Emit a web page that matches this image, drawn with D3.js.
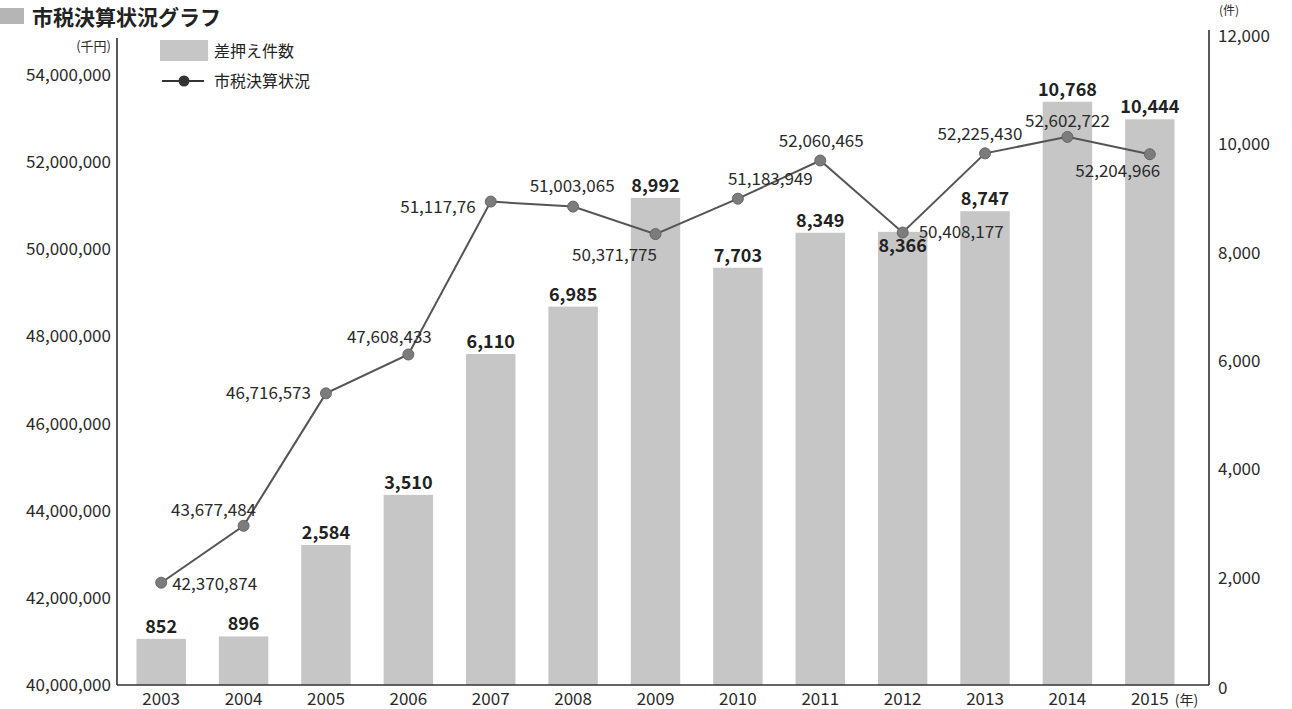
<!DOCTYPE html>
<html>
<head>
<meta charset="utf-8" />
<title>市税決算状況グラフ</title>
<script src="https://d3js.org/d3.v7.min.js"></script>
<style>
body { margin: 0; background: #fff; }
svg text { font-family: "Noto Sans CJK JP", "Noto Sans", sans-serif; fill: #222; }
.bar { fill: #c6c6c6; }
.barlabel { font-weight: bold; font-size: 18px; text-anchor: middle; }
.linelabel { font-size: 17px; fill: #2a2a2a; }
.tick { font-size: 17px; fill: #2a2a2a; }
</style>
</head>
<body>
<div id="viz"></div>
<script>
// data
var years = ["2003", "2004", "2005", "2006", "2007", "2008", "2009", "2010", "2011", "2012", "2013", "2014", "2015"];
var seizures = [852, 896, 2584, 3510, 6110, 6985, 8992, 7703, 8349, 8366, 8747, 10768, 10444];
var taxRevenue = [42370874, 43677484, 46716573, 47608433, 51117760, 51003065, 50371775, 51183949, 52060465, 50408177, 52225430, 52602722, 52204966];
var taxLabels = ["42,370,874", "43,677,484", "46,716,573", "47,608,433", "51,117,76", "51,003,065", "50,371,775", "51,183,949", "52,060,465", "50,408,177", "52,225,430", "52,602,722", "52,204,966"];
var leftTicks = [40000000, 42000000, 44000000, 46000000, 48000000, 50000000, 52000000, 54000000];
var rightTicks = [0, 2000, 4000, 6000, 8000, 10000, 12000];

// where each line label sits next to its point
var lineLabelPos = [
  {dx: 11, dy: 7, a: "start"},
  {dx: -30, dy: -10, a: "middle"},
  {dx: -15, dy: 6, a: "end"},
  {dx: -19, dy: -11, a: "middle"},
  {dx: -15, dy: 11, a: "end"},
  {dx: -1, dy: -15, a: "middle"},
  {dx: -41, dy: 27, a: "middle"},
  {dx: -10, dy: -14, a: "start"},
  {dx: 1, dy: -14, a: "middle"},
  {dx: 16, dy: 5, a: "start"},
  {dx: -5, dy: -13, a: "middle"},
  {dx: 0, dy: -10, a: "middle"},
  {dx: -32, dy: 23, a: "middle"}
];
// bar label tweak (2012 sits inside the bar)
var barLabelDy = [0, 0, 0, 0, 0, 0, 0, 0, 0, 26, 0, 0, 0];

var W = 1292, H = 709;
var left = 117, right = 1209, bottom = 685;

var svg = d3.select("#viz").append("svg")
    .attr("width", W)
    .attr("height", H);

var x = d3.scaleBand().domain(years).range([120, 1191]).paddingInner(0.4).paddingOuter(0.2);
var yL = d3.scaleLinear().domain([40000000, 54000000]).range([686, 76]);
var yR = d3.scaleLinear().domain([0, 12000]).range([bottom, 35]);

// title
svg.append("rect").attr("x", 0).attr("y", 8).attr("width", 24).attr("height", 16).attr("fill", "#b5b5b5");
svg.append("text").attr("x", 32).attr("y", 25)
    .style("font-size", "21px").style("font-weight", "bold")
    .text("市税決算状況グラフ");

// bars
svg.selectAll(".bar")
  .data(seizures)
  .enter().append("rect")
    .attr("class", "bar")
    .attr("x", function(d, i) { return x(years[i]); })
    .attr("y", function(d) { return yR(d); })
    .attr("width", x.bandwidth())
    .attr("height", function(d) { return bottom - yR(d); });

// axes lines
svg.append("line").attr("x1", left).attr("x2", left).attr("y1", 38).attr("y2", bottom)
    .attr("stroke", "#222").attr("stroke-width", 1.5);
svg.append("line").attr("x1", right).attr("x2", right).attr("y1", 30).attr("y2", bottom)
    .attr("stroke", "#222").attr("stroke-width", 1.5);
svg.append("line").attr("x1", left).attr("x2", right).attr("y1", bottom).attr("y2", bottom)
    .attr("stroke", "#333").attr("stroke-width", 1.5);

// left axis labels
svg.selectAll(".ltick")
  .data(leftTicks)
  .enter().append("text")
    .attr("class", "tick")
    .attr("x", 111)
    .attr("y", function(d) { return yL(d) - 1; })
    .attr("dy", "0.35em")
    .attr("text-anchor", "end")
    .text(d3.format(","));
svg.append("text").attr("class", "tick").attr("x", 111).attr("y", 51)
    .attr("text-anchor", "end").style("font-size", "13px").text("(千円)");

// right axis labels
svg.selectAll(".rtick")
  .data(rightTicks)
  .enter().append("text")
    .attr("class", "tick")
    .attr("x", 1218)
    .attr("y", function(d) { return d === 0 ? yR(d) + 3 : yR(d) + 1; })
    .attr("dy", "0.35em")
    .text(d3.format(","));
svg.append("text").attr("class", "tick").attr("x", 1219).attr("y", 15)
    .style("font-size", "12px").text("(件)");

// year labels
svg.selectAll(".xtick")
  .data(years)
  .enter().append("text")
    .attr("class", "tick")
    .attr("x", function(d) { return x(d) + x.bandwidth() / 2; })
    .attr("y", 705)
    .attr("text-anchor", "middle")
    .text(function(d) { return d; });
svg.append("text").attr("class", "tick")
    .attr("x", x("2015") + x.bandwidth() / 2 + 25).attr("y", 705)
    .style("font-size", "14px").text("(年)");

// bar value labels
svg.selectAll(".barlabel")
  .data(seizures)
  .enter().append("text")
    .attr("class", "barlabel")
    .attr("x", function(d, i) { return x(years[i]) + x.bandwidth() / 2; })
    .attr("y", function(d, i) { return yR(d) - 6 + barLabelDy[i]; })
    .text(d3.format(","));

// revenue line
var line = d3.line()
    .x(function(d, i) { return x(years[i]) + x.bandwidth() / 2; })
    .y(function(d) { return yL(d); });

svg.append("path")
    .datum(taxRevenue)
    .attr("d", line)
    .attr("fill", "none")
    .attr("stroke", "#555")
    .attr("stroke-width", 2);

svg.selectAll(".dot")
  .data(taxRevenue)
  .enter().append("circle")
    .attr("cx", function(d, i) { return x(years[i]) + x.bandwidth() / 2; })
    .attr("cy", function(d) { return yL(d); })
    .attr("r", 5.5)
    .attr("fill", "#7c7c7c")
    .attr("stroke", "#666");

svg.selectAll(".linelabel")
  .data(taxRevenue)
  .enter().append("text")
    .attr("class", "linelabel")
    .attr("x", function(d, i) { return x(years[i]) + x.bandwidth() / 2 + lineLabelPos[i].dx; })
    .attr("y", function(d, i) { return yL(d) + lineLabelPos[i].dy; })
    .attr("text-anchor", function(d, i) { return lineLabelPos[i].a; })
    .text(function(d, i) { return taxLabels[i]; });

// legend
var lg = svg.append("g");
lg.append("rect").attr("x", 160).attr("y", 40).attr("width", 48).attr("height", 21).attr("class", "bar");
lg.append("text").attr("x", 214).attr("y", 57).style("font-size", "16px").text("差押え件数");
lg.append("line").attr("x1", 162).attr("x2", 204).attr("y1", 81).attr("y2", 81)
    .attr("stroke", "#333").attr("stroke-width", 2);
lg.append("circle").attr("cx", 184).attr("cy", 81).attr("r", 5.5).attr("fill", "#333");
lg.append("text").attr("x", 214).attr("y", 87).style("font-size", "16px").text("市税決算状況");
</script>
</body>
</html>
